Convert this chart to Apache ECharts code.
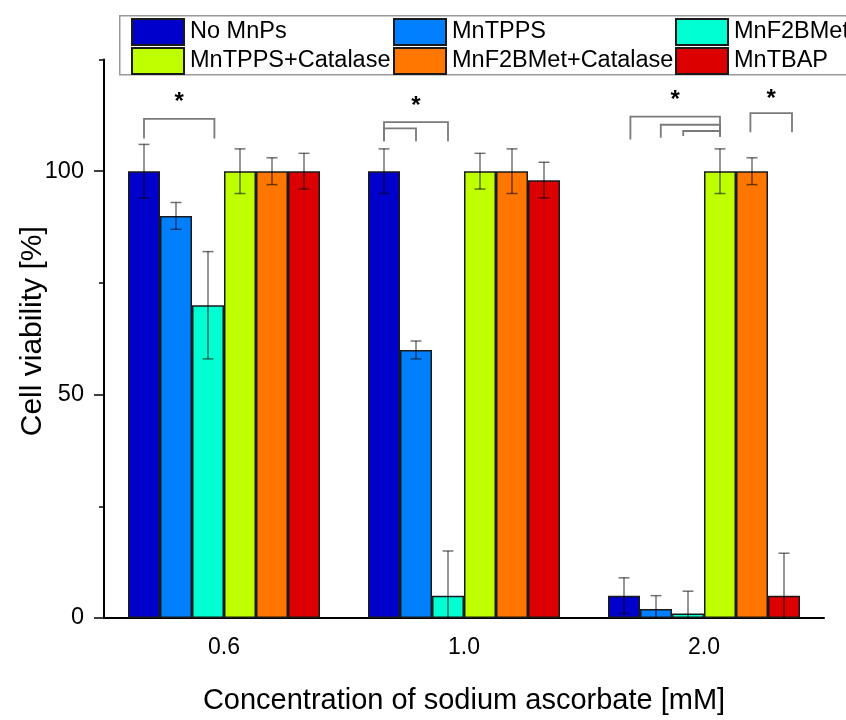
<!DOCTYPE html>
<html>
<head>
<meta charset="utf-8">
<script src="https://cdn.jsdelivr.net/npm/echarts@6/dist/echarts.min.js"></script>
<style>
  html, body { margin: 0; padding: 0; background: #fff; }
  #main { width: 846px; height: 720px; }
</style>
</head>
<body>
<div id="main"></div>
<script>
var chartDom = document.getElementById('main');
var myChart = echarts.init(chartDom);

var FONT = 'Liberation Sans, Arial, sans-serif';

// concentration of sodium ascorbate [mM]
var categories = ['0.6', '1.0', '2.0'];
var seriesNames = ['No MnPs', 'MnTPPS', 'MnF2BMet', 'MnTPPS+Catalase', 'MnF2BMet+Catalase', 'MnTBAP'];
var seriesColors = ['#0000cc', '#0080ff', '#00ffd2', '#bfff00', '#ff7600', '#dd0000'];
// mean cell viability per series, one value per concentration
var means = [
  [100, 100, 5],
  [90, 60, 2],
  [70, 5, 1],
  [100, 100, 100],
  [100, 100, 100],
  [100, 98, 5]
];
// error (+/-) per series
var errors = [
  [6, 5, 4],
  [3, 2, 3],
  [12, 10, 5],
  [5, 4, 5],
  [3, 5, 3],
  [4, 4, 9.5]
];
var yLabelValues = [0, 50, 100];

// significance brackets: [category, from bar slot, to bar slot, top, left leg end, right leg end]
var brackets = [
  [0, 0, 2.2, 111.7, 107.3, 107.3],
  [1, 0, 2, 111, 106.7, 106.7],
  [1, 0, 1, 109.6, 106.7, 106.7],
  [2, 0.2, 3, 112.2, 107.1, 107.7],
  [2, 1.15, 3, 110.4, 107.5, 107.7],
  [2, 1.85, 3, 109, 107.9, 107.7],
  [2, 3.95, 5.25, 113, 108.7, 108.7]
];
// stars: [category, bar slot, height]
var stars = [
  [0, 1.1, 116.7],
  [1, 1, 115.8],
  [2, 1.6, 117.1],
  [2, 4.6, 117.5]
];

var NBARS = seriesNames.length;

function slotX(api, cat, slot) {
  var c = api.coord([cat, 0])[0];
  var w = api.size([1, 0])[0] * 0.8 / NBARS;
  return c + (slot + 0.5 - NBARS / 2) * w;
}

var errData = [];
for (var s = 0; s < NBARS; s++) {
  for (var c = 0; c < categories.length; c++) {
    errData.push([c, s, means[s][c], errors[s][c]]);
  }
}

var barSeries = seriesNames.map(function (name, i) {
  return {
    name: name,
    type: 'bar',
    data: means[i],
    barWidth: 32,
    barGap: '0%',
    barCategoryGap: '20%',
    itemStyle: { color: seriesColors[i], borderColor: '#1a1a1a', borderWidth: 1.5 },
    emphasis: { disabled: true }
  };
});

var legends = seriesNames.map(function (name, i) {
  var col = i % 3, row = Math.floor(i / 3);
  var lefts = [131, 393, 675];
  return {
    data: [name],
    left: lefts[col],
    top: row === 0 ? 18 : 47,
    padding: 0,
    itemWidth: 52,
    itemHeight: 26,
    icon: 'rect',
    selectedMode: false,
    textStyle: { fontFamily: FONT, fontSize: 23.5, color: '#000', padding: [1, 0, 0, 1] }
  };
});

var option = {
  animation: false,
  backgroundColor: '#fff',
  graphic: [{
    type: 'rect',
    left: 119,
    top: 15,
    z: 0,
    shape: { width: 760, height: 59 },
    style: { fill: '#fff', stroke: '#999', lineWidth: 1.5 }
  }],
  legend: legends,
  grid: { left: 104, right: 22, top: 59.5, bottom: 98 },
  xAxis: {
    type: 'category',
    data: categories,
    name: 'Concentration of sodium ascorbate [mM]',
    nameLocation: 'middle',
    nameGap: 68,
    nameTextStyle: { fontFamily: FONT, fontSize: 29, color: '#000' },
    axisLine: { lineStyle: { color: '#000', width: 2 } },
    axisTick: { alignWithLabel: true, length: 10, lineStyle: { color: '#000', width: 1.5 } },
    axisLabel: { fontFamily: FONT, fontSize: 23, color: '#000', margin: 18 },
    splitLine: { show: false }
  },
  yAxis: [{
    type: 'value',
    min: 0,
    max: 125,
    interval: 25,
    name: 'Cell viability [%]',
    nameLocation: 'middle',
    nameGap: 56,
    nameTextStyle: { fontFamily: FONT, fontSize: 30, color: '#000', padding: [0, 0, 0, 15] },
    axisLine: { show: true, lineStyle: { color: '#000', width: 2 } },
    axisTick: { show: true, length: 5, lineStyle: { color: '#000', width: 1.5 } },
    axisLabel: { show: false },
    splitLine: { show: false }
  }, {
    type: 'value',
    min: 0,
    max: 125,
    interval: 25,
    position: 'left',
    axisLine: { show: false },
    axisTick: { show: true, length: 10, customValues: yLabelValues, lineStyle: { color: '#000', width: 1.5 } },
    axisLabel: { show: true, customValues: yLabelValues, fontFamily: FONT, fontSize: 23.5, color: '#000', margin: 20 },
    splitLine: { show: false }
  }],
  series: barSeries.concat([{
    type: 'custom',
    name: 'errors',
    data: errData,
    z: 5,
    clip: false,
    encode: { x: 0, y: 2 },
    renderItem: function (params, api) {
      var cat = api.value(0), slot = api.value(1), m = api.value(2), e = api.value(3);
      var x = slotX(api, cat, slot);
      var top = api.coord([cat, m + e])[1];
      var lowV = m - e;
      var bot = api.coord([cat, Math.max(lowV, 0)])[1];
      var cap = 5.5;
      var style = { stroke: 'rgba(0,0,0,0.55)', lineWidth: 1.5 };
      var children = [
        { type: 'line', shape: { x1: x, y1: top, x2: x, y2: bot }, style: style },
        { type: 'line', shape: { x1: x - cap, y1: top, x2: x + cap, y2: top }, style: style }
      ];
      if (lowV > 0) {
        children.push({ type: 'line', shape: { x1: x - cap, y1: bot, x2: x + cap, y2: bot }, style: style });
      }
      return { type: 'group', children: children };
    }
  }, {
    type: 'custom',
    name: 'brackets',
    data: brackets,
    z: 5,
    clip: false,
    encode: { x: 0, y: 3 },
    renderItem: function (params, api) {
      var cat = api.value(0);
      var xl = slotX(api, cat, api.value(1));
      var xr = slotX(api, cat, api.value(2));
      var yt = api.coord([cat, api.value(3)])[1];
      var yl = api.coord([cat, api.value(4)])[1];
      var yr = api.coord([cat, api.value(5)])[1];
      return {
        type: 'polyline',
        shape: { points: [[xl, yl], [xl, yt], [xr, yt], [xr, yr]] },
        style: { stroke: '#7a7a7a', lineWidth: 1.8, fill: null }
      };
    }
  }, {
    type: 'custom',
    name: 'stars',
    data: stars,
    z: 5,
    clip: false,
    encode: { x: 0, y: 2 },
    renderItem: function (params, api) {
      var cat = api.value(0);
      var x = slotX(api, cat, api.value(1));
      var y = api.coord([cat, api.value(2)])[1];
      return {
        type: 'text',
        x: x,
        y: y + 6,
        style: {
          text: '*',
          fontFamily: FONT,
          fontSize: 24,
          fontWeight: 'bold',
          fill: '#000',
          align: 'center',
          verticalAlign: 'middle'
        }
      };
    }
  }])
};

myChart.setOption(option);
</script>
</body>
</html>
